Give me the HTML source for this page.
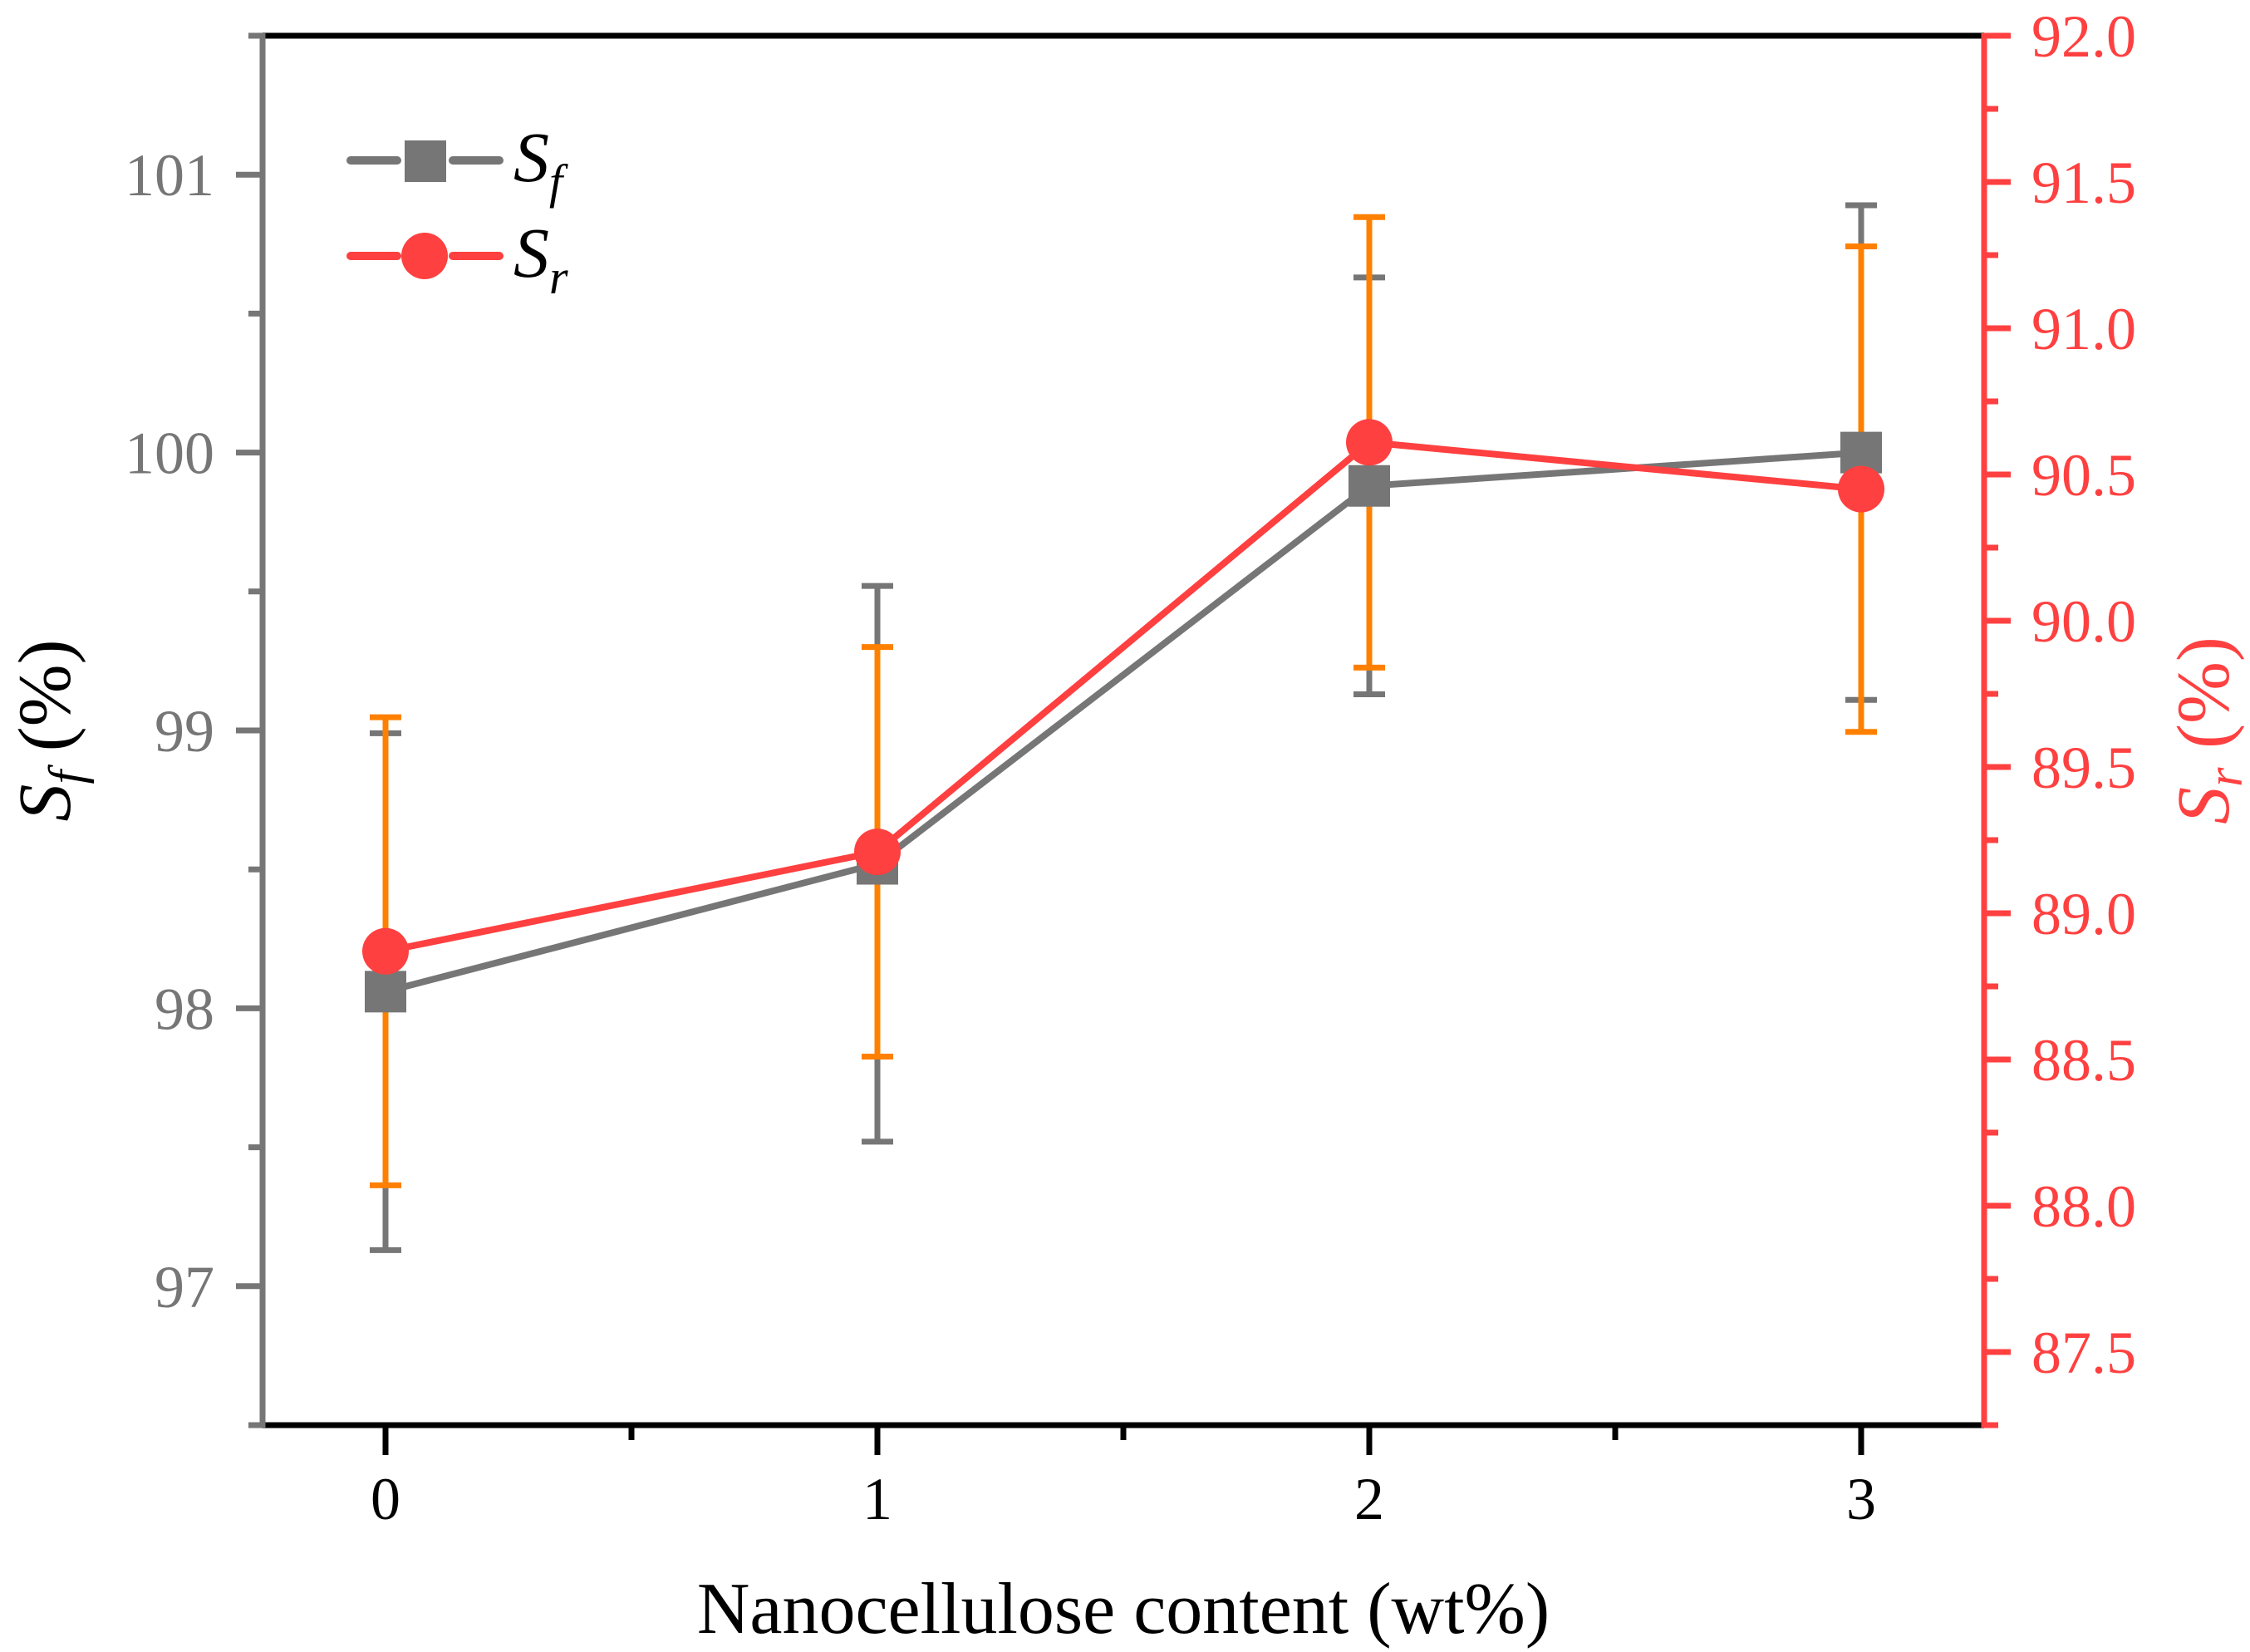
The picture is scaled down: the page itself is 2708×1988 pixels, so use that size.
<!DOCTYPE html>
<html><head><meta charset="utf-8"><style>
html,body{margin:0;padding:0;background:#fff;}
svg{display:block;font-family:"Liberation Serif",serif;}
</style></head><body>
<svg id="chart" width="2708" height="1988" viewBox="0 0 2708 1988">
<g id="g"></g>
<g>
 <g>
  <line x1="422" y1="193" x2="478" y2="193" stroke="#767676" stroke-width="10" stroke-linecap="round"/>
  <line x1="545" y1="193" x2="601" y2="193" stroke="#767676" stroke-width="10" stroke-linecap="round"/>
  <rect x="487" y="169" width="50" height="50" fill="#767676"/>
  <text x="618" y="218" font-size="86" font-style="italic">S<tspan font-size="58" dy="20">f</tspan></text>
 </g>
 <g>
  <line x1="422" y1="308" x2="478" y2="308" stroke="#ff4040" stroke-width="10" stroke-linecap="round"/>
  <line x1="545" y1="308" x2="601" y2="308" stroke="#ff4040" stroke-width="10" stroke-linecap="round"/>
  <circle cx="511" cy="308" r="28" fill="#ff4040"/>
  <text x="618" y="333" font-size="86" font-style="italic">S<tspan font-size="58" dy="20">r</tspan></text>
 </g>
</g>
<text x="1352" y="1965" text-anchor="middle" font-size="88" fill="#000">Nanocellulose content (wt%)</text>
<text transform="translate(84,879) rotate(-90)" text-anchor="middle" font-size="90" fill="#000"><tspan font-style="italic">S</tspan><tspan font-style="italic" font-size="60" dy="16">f</tspan><tspan dy="-16"> (%)</tspan></text>
<text transform="translate(2682,879) rotate(-90)" text-anchor="middle" font-size="90" fill="#ff4040"><tspan font-style="italic">S</tspan><tspan font-style="italic" font-size="60" dy="16">r</tspan><tspan dy="-16"> (%)</tspan></text>
</svg>
<script>
const categories=[0,1,2,3];
const sfValues=[98.06,98.52,99.88,100.0];
const sfErrors=[0.93,1.0,0.75,0.89];
const srValues=[88.87,89.21,90.61,90.45];
const srErrors=[0.80,0.70,0.77,0.83];
const leftTicks=[97,98,99,100,101];
const rightTicks=["87.5","88.0","88.5","89.0","89.5","90.0","90.5","91.0","91.5","92.0"];
const xTicks=["0","1","2","3"];

const L=316,R=2388,T=43,B=1715;
const xMin=-0.25,xMax=3.25,lMin=96.5,lMax=101.5,rMin=87.25,rMax=92.0;
const X=v=>L+(v-xMin)/(xMax-xMin)*(R-L);
const YL=v=>B-(v-lMin)/(lMax-lMin)*(B-T);
const YR=v=>B-(v-rMin)/(rMax-rMin)*(B-T);
const NS="http://www.w3.org/2000/svg";
const g=document.getElementById('g');
function el(tag,attrs,parent){const e=document.createElementNS(NS,tag);for(const k in attrs)e.setAttribute(k,attrs[k]);(parent||g).appendChild(e);return e;}
const GRAY="#767676",RED="#ff4040",OR="#ff8000";
const SW=7;
let e;
e=el('line',{x1:L,y1:T,x2:R,y2:T,stroke:"#000","stroke-width":SW});


e=el('line',{x1:L,y1:B,x2:R,y2:B,stroke:"#000","stroke-width":SW});


e=el('line',{x1:L,y1:T-3,x2:L,y2:B+3,stroke:GRAY,"stroke-width":SW});


e=el('line',{x1:R,y1:T-3,x2:R,y2:B+3,stroke:RED,"stroke-width":SW});



for(let i=0;i<categories.length;i++){
  const x=X(categories[i]);
  el('line',{x1:x,y1:B,x2:x,y2:B+36,stroke:"#000","stroke-width":SW});
  e=el('text',{x:x,y:1828,"text-anchor":"middle","font-size":72,fill:"#000"});
  e.textContent=xTicks[i];
  
  
  if(i<categories.length-1){const xm=X(categories[i]+0.5);el('line',{x1:xm,y1:B,x2:xm,y2:B+18,stroke:"#000","stroke-width":SW});}
}
for(let i=0;i<leftTicks.length;i++){
  const y=YL(leftTicks[i]);
  el('line',{x1:L-32,y1:y,x2:L,y2:y,stroke:GRAY,"stroke-width":SW});
  e=el('text',{x:258,y:y+25,"text-anchor":"end","font-size":72,fill:GRAY});
  e.textContent=leftTicks[i];
  
  
}
for(let v=lMin;v<=lMax+0.01;v+=1){const y=YL(v);el('line',{x1:L-17,y1:y,x2:L,y2:y,stroke:GRAY,"stroke-width":SW});}
for(let i=0;i<rightTicks.length;i++){
  const y=YR(parseFloat(rightTicks[i]));
  el('line',{x1:R,y1:y,x2:R+32,y2:y,stroke:RED,"stroke-width":SW});
  e=el('text',{x:2445,y:y+25,"text-anchor":"start","font-size":72,fill:RED});
  e.textContent=rightTicks[i];
  
  
}
for(let v=rMin;v<=rMax;v+=0.5){const y=YR(v);el('line',{x1:R,y1:y,x2:R+17,y2:y,stroke:RED,"stroke-width":SW});}

let pts=categories.map((c,i)=>X(c)+","+YL(sfValues[i])).join(" ");
e=el('polyline',{points:pts,fill:"none",stroke:GRAY,"stroke-width":8});


for(let i=0;i<categories.length;i++){
  const x=X(categories[i]),y1=YL(sfValues[i]+sfErrors[i]),y2=YL(sfValues[i]-sfErrors[i]);
  e=el('path',{d:`M${x},${y1}V${y2}M${x-19},${y1}H${x+19}M${x-19},${y2}H${x+19}`,stroke:GRAY,"stroke-width":7,fill:"none"});
  
  
}
for(let i=0;i<categories.length;i++){
  const x=X(categories[i]),y1=YR(srValues[i]+srErrors[i]),y2=YR(srValues[i]-srErrors[i]);
  e=el('path',{d:`M${x},${y1}V${y2}M${x-19},${y1}H${x+19}M${x-19},${y2}H${x+19}`,stroke:OR,"stroke-width":7,fill:"none"});
  
  
}
for(let i=0;i<categories.length;i++){
  e=el('rect',{x:X(categories[i])-25,y:YL(sfValues[i])-25,width:50,height:50,fill:GRAY});
  
  
}
pts=categories.map((c,i)=>X(c)+","+YR(srValues[i])).join(" ");
e=el('polyline',{points:pts,fill:"none",stroke:RED,"stroke-width":8});


for(let i=0;i<categories.length;i++){
  e=el('circle',{cx:X(categories[i]),cy:YR(srValues[i]),r:28,fill:RED});
  
  
}
</script>
</body></html>
